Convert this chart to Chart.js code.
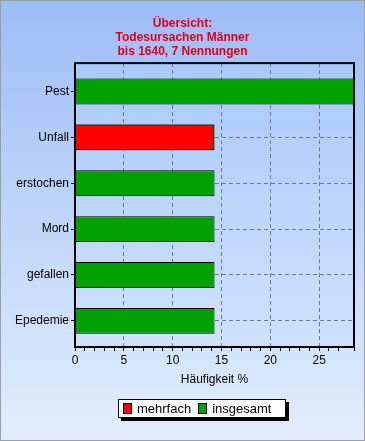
<!DOCTYPE html>
<html>
<head>
<meta charset="utf-8">
<script src="https://cdn.jsdelivr.net/npm/chart.js@4.4.1/dist/chart.umd.min.js"></script>
<style>
  html, body { margin: 0; padding: 0; background: #fff; }
  #wrap { position: relative; width: 365px; height: 441px; }
  canvas { display: block; }
  #legende {
    position: absolute; left: 118px; top: 399px; width: 162px; height: 17px;
    background: #fff; border: 1px solid #000; box-shadow: 3px 3px 0 #000;
    font: 13px 'Liberation Sans', Arial, sans-serif; color: #000;
    display: flex; align-items: center; padding-left: 4px; box-sizing: content-box;
  }
  #legende .eintrag { display: flex; align-items: center; margin-right: 7px; }
  #legende .kasten { width: 7px; height: 9px; border: 1px solid #000; margin-right: 5px; }
</style>
</head>
<body>
<div id="wrap">
  <canvas id="chart" width="365" height="441"></canvas>
  <div id="legende"></div>
</div>
<script>
// Todesursachen Männer bis 1640 (7 Nennungen), Häufigkeit in %
const ursachen = ['Pest', 'Unfall', 'erstochen', 'Mord', 'gefallen', 'Epedemie'];
const mehrfach = [null, 14.2, null, null, null, null];
const insgesamt = [28.57, 14.29, 14.29, 14.29, 14.29, 14.29];
const titelZeilen = ['Übersicht:', 'Todesursachen Männer', 'bis 1640, 7 Nennungen'];
const xMax = 28.57;

const schrift = 'Liberation Sans, Arial, sans-serif';
const gitterFarbe = '#6c7b92';

// Hintergrund und Rahmen um den Plotbereich
const hintergrund = {
    id: 'hintergrund',
    beforeDraw(chart) {
        const c = chart.ctx;
        const w = chart.width, h = chart.height;
        let g = c.createLinearGradient(0, 0, 0, h);
        g.addColorStop(0, '#9dbdf6');
        g.addColorStop(1, '#e2eefc');
        c.save();
        c.fillStyle = g;
        c.fillRect(0, 0, w, h);

        const a = chart.chartArea;
        g = c.createLinearGradient(0, a.top, 0, a.bottom);
        g.addColorStop(0, '#a9c9fb');
        g.addColorStop(1, '#cfe2fd');
        c.fillStyle = g;
        c.fillRect(a.left, a.top, a.right - a.left, a.bottom - a.top);
        c.restore();
    },
    afterDraw(chart) {
        const c = chart.ctx;
        const a = chart.chartArea;
        c.save();
        c.strokeStyle = '#000';
        c.lineWidth = 2;
        c.strokeRect(a.left, a.top, a.right - a.left, a.bottom - a.top);
        c.strokeStyle = '#9a9fa6';
        c.lineWidth = 1;
        c.strokeRect(0.5, 0.5, chart.width - 1, chart.height - 1);
        c.restore();
    }
};

const chart = new Chart(document.getElementById('chart').getContext('2d'), {
    type: 'bar',
    data: {
        labels: ursachen,
        datasets: [{
            label: 'mehrfach',
            data: mehrfach,
            backgroundColor: '#ff0000',
            borderColor: '#000000',
            borderWidth: 1,
            grouped: false
        }, {
            label: 'insgesamt',
            data: insgesamt,
            backgroundColor: '#00a000',
            borderColor: '#000000',
            borderWidth: 1,
            grouped: false
        }]
    },
    options: {
        indexAxis: 'y',
        responsive: false,
        animation: false,
        barPercentage: 0.565,
        categoryPercentage: 1,
        layout: { padding: { left: 11, right: 11, top: 0, bottom: 47 } },
        scales: {
            x: {
                min: 0,
                max: xMax,
                border: { display: false, dash: [4, 3] },
                grid: {
                    color: ctx => (ctx.tick && ctx.tick.value % 5 === 0 && ctx.tick.value > 0) ? gitterFarbe : 'rgba(0,0,0,0)',
                    tickColor: '#000',
                    tickLength: 4,
                    lineWidth: 1
                },
                ticks: {
                    stepSize: 1,
                    autoSkip: false,
                    maxRotation: 0,
                    padding: 2,
                    color: '#000',
                    font: { family: schrift, size: 12 },
                    callback: v => (v % 5 === 0 ? v : '')
                },
                title: {
                    display: true,
                    text: 'Häufigkeit %',
                    color: '#000',
                    padding: { top: 2, bottom: 7 },
                    font: { family: schrift, size: 12 }
                },
                afterFit: s => { s.height = 47; }
            },
            y: {
                offset: false,
                border: { display: false, dash: [4, 3] },
                grid: {
                    offset: false,
                    color: gitterFarbe,
                    tickColor: '#000',
                    tickLength: 4
                },
                ticks: {
                    padding: 2,
                    color: '#000',
                    font: { family: schrift, size: 12 }
                },
                // etwas mehr Rand oben als unten, wie im Original
                afterBuildTicks: s => { s._startValue = -0.62; s._valueRange = 6.19; },
                afterFit: s => { s.width = 64; }
            }
        },
        plugins: {
            title: {
                display: true,
                text: titelZeilen,
                color: '#e0001a',
                font: { family: schrift, size: 12, weight: 'bold', lineHeight: 1.17 },
                padding: { top: 17, bottom: 4 }
            },
            legend: { display: false },
            tooltip: { enabled: false }
        }
    },
    plugins: [hintergrund]
});

// Legende aus den Datensätzen
const legende = document.getElementById('legende');
chart.data.datasets.forEach(ds => {
    const e = document.createElement('span');
    e.className = 'eintrag';
    const k = document.createElement('span');
    k.className = 'kasten';
    k.style.background = ds.backgroundColor;
    e.appendChild(k);
    e.appendChild(document.createTextNode(ds.label));
    legende.appendChild(e);
});
</script>
</body>
</html>
